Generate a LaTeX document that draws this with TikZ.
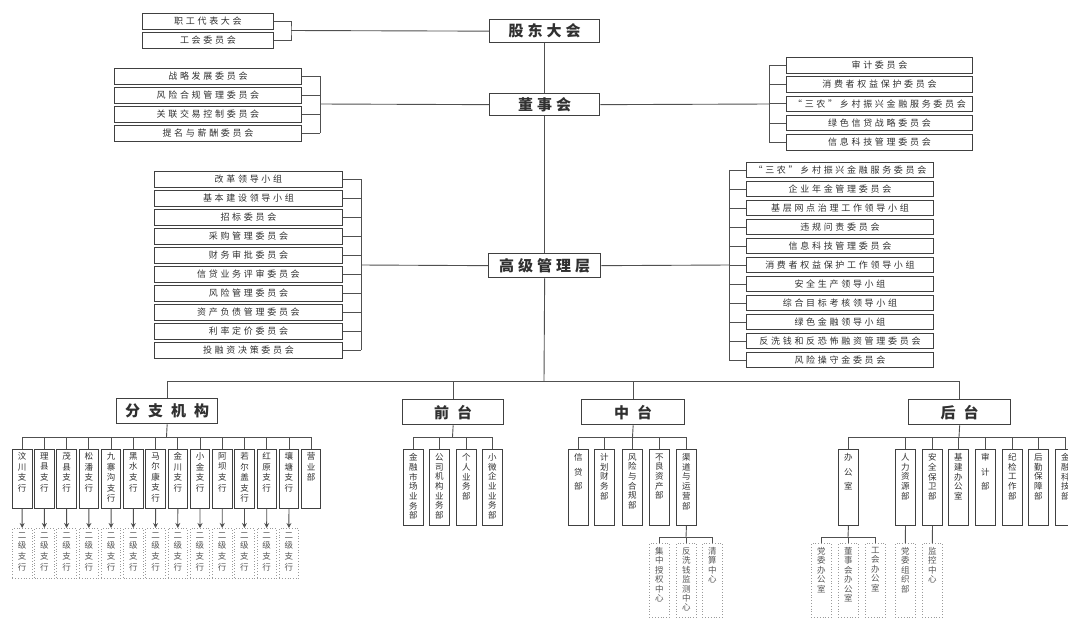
\documentclass[tikz,border=0pt]{standalone}
\usepackage{fontspec}
\newfontfamily\cjk{Noto Sans CJK SC}
\newfontfamily\cjkc[LetterSpace=30]{Noto Sans CJK SC}
\usetikzlibrary{arrows.meta}
\definecolor{lc}{HTML}{505050}
\definecolor{bc}{HTML}{404040}
\definecolor{tc}{HTML}{303030}
\definecolor{dc}{HTML}{9A9A9A}
\definecolor{dt}{HTML}{555555}
\def\vtA#1{\ifx#1\relax\else\hbox to 12pt{\hss#1\hss}\expandafter\vtA\fi}
\newcommand\vt[2]{\vbox to #1{\expandafter\vtA#2\relax\vfill}}
\newcommand\gap{\hspace{4pt}}
\newcommand\wgap{\hspace{8pt}}
\begin{document}
\begin{tikzpicture}[x=1pt,y=-1pt,
 ln/.style={draw=lc,line width=0.9pt},
 bx/.style={draw=bc,line width=0.9pt,inner sep=0pt,anchor=north west,text=tc},
 cbox/.style={bx,minimum height=15.5pt,font=\cjkc\fontsize{9}{10}\selectfont},
 hdr/.style={bx,line width=1.3pt,font=\cjk\bfseries\fontsize{15}{16}\selectfont},
 vbx/.style={bx,minimum width=20pt,inner ysep=4pt,font=\cjk\fontsize{8.5}{#1}\selectfont},
 vbx/.default=9.7,
 vbr/.style={bx,minimum width=19.5pt,inner ysep=3pt,font=\cjk\fontsize{8.5}{10.6}\selectfont},
 dbx/.style={draw=dc,dotted,line width=0.8pt,inner xsep=0pt,inner ysep=4pt,anchor=north west,minimum width=20pt,text=dt,font=\cjk\fontsize{8.5}{#1}\selectfont},
 dbx/.default=9.4,
 arr/.style={draw=lc,line width=0.9pt,-{Stealth[length=5pt,width=5pt]}}
]
\useasboundingbox (0,0) rectangle (1068,619);
% ---------- top
\node[hdr,minimum width=110pt,minimum height=23pt] (gd) at (489,19) {股\gap 东\gap 大\gap 会};
\node[cbox,minimum width=131pt] (zg1) at (142,13) {职工代表大会};
\node[cbox,minimum width=131pt] (zg2) at (142,32) {工会委员会};
\coordinate (bk0) at (291,30.5);
\draw[ln] (zg1.east) -| (bk0) |- (zg2.east);
\draw[ln] (bk0) -- (gd.west);
% ---------- board
\node[hdr,minimum width=110pt,minimum height=22pt] (ds) at (489,93) {董\gap 事\gap 会};
\foreach \t [count=\i] in {战略发展委员会,风险合规管理委员会,关联交易控制委员会,提名与薪酬委员会}
  \node[cbox,minimum width=187pt] (dl\i) at (114,{68+19*(\i-1)}) {\t};
\coordinate (bkd) at (320,104);
\foreach \i in {1,...,4} \draw[ln] (dl\i.east) -- (dl\i.east -| bkd);
\draw[ln] (dl1.east -| bkd) -- (dl4.east -| bkd);
\draw[ln] (bkd) -- (ds.west);
\foreach \t [count=\i] in {审计委员会,消费者权益保护委员会,“三农”乡村振兴金融服务委员会,绿色信贷战略委员会,信息科技管理委员会}
  \node[cbox,minimum width=186pt] (dr\i) at (786,{57+19.25*(\i-1)}) {\t};
\coordinate (bkr) at (769,104);
\foreach \i in {1,...,5} \draw[ln] (dr\i.west) -- (dr\i.west -| bkr);
\draw[ln] (dr1.west -| bkr) -- (dr5.west -| bkr);
\draw[ln] (bkr) -- (ds.east);
% ---------- senior management
\node[hdr,minimum width=112pt,minimum height=24pt] (gg) at (488,253) {高\gap 级\gap 管\gap 理\gap 层};
\foreach \t [count=\i] in {改革领导小组,基本建设领导小组,招标委员会,采购管理委员会,财务审批委员会,信贷业务评审委员会,风险管理委员会,资产负债管理委员会,利率定价委员会,投融资决策委员会}
  \node[cbox,minimum width=188pt] (gl\i) at (154,{171+19*(\i-1)}) {\t};
\coordinate (bkgl) at (361,265);
\foreach \i in {1,...,10} \draw[ln] (gl\i.east) -- (gl\i.east -| bkgl);
\draw[ln] (gl1.east -| bkgl) -- (gl10.east -| bkgl);
\draw[ln] (bkgl) -- (gg.west);
\foreach \t [count=\i] in {“三农”乡村振兴金融服务委员会,企业年金管理委员会,基层网点治理工作领导小组,违规问责委员会,信息科技管理委员会,消费者权益保护工作领导小组,安全生产领导小组,综合目标考核领导小组,绿色金融领导小组,反洗钱和反恐怖融资管理委员会,风险操守金委员会}
  \node[cbox,minimum width=187pt,minimum height=15pt] (gr\i) at (746,{162+19*(\i-1)}) {\t};
\coordinate (bkgr) at (729,265);
\foreach \i in {1,...,11} \draw[ln] (gr\i.west) -- (gr\i.west -| bkgr);
\draw[ln] (gr1.west -| bkgr) -- (gr11.west -| bkgr);
\draw[ln] (bkgr) -- (gg.east);
\draw[ln] (gd.south) -- (ds.north);
\draw[ln] (ds.south) -- (gg.north);
% ---------- second level
\node[hdr,minimum width=101pt,minimum height=25pt] (fz) at (116,398) {分\wgap 支\wgap 机\wgap 构};
\node[hdr,minimum width=101pt,minimum height=25pt] (qt) at (402,399) {前\wgap 台};
\node[hdr,minimum width=103pt,minimum height=25pt] (zt) at (581,399) {中\wgap 台};
\node[hdr,minimum width=102pt,minimum height=25pt] (ht) at (908,399) {后\wgap 台};
\coordinate (mb) at (544,381);
\draw[ln] (gg.south) -- (mb);
\draw[ln] (fz.north) |- (mb);
\draw[ln] (qt.north) |- (mb);
\draw[ln] (zt.north) |- (mb);
\draw[ln] (ht.north) |- (mb);
% ---------- branches
\foreach \t [count=\i] in {汶川支行,理县支行,茂县支行,松潘支行,九寨沟支行,黑水支行,马尔康支行,金川支行,小金支行,阿坝支行,若尔盖支行,红原支行,壤塘支行,营业部}
  \node[vbr] (b\i) at ({12+22.23*(\i-1)},449) {\vt{53pt}{\t}};
\coordinate (fb) at (166.5,437);
\draw[ln] (fz.south) -- (fb);
\foreach \i in {1,...,14} \draw[ln] (b\i.north) |- (fb);
\foreach \i in {1,...,13} {
  \node[dbx=10.6,minimum width=19.5pt] (e\i) at ({12+22.23*(\i-1)},528) {\vt{42pt}{二级支行}};
  \draw[arr] (b\i.south) -- (e\i.north);
}
% ---------- front office
\foreach \t/\x [count=\i] in {金融市场业务部/403,公司机构业务部/429,个人业务部/456,小微企业业务部/482}
  \node[vbx] (q\i) at (\x,449) {\vt{68pt}{\t}};
\coordinate (qb) at (452.5,437);
\draw[ln] (qt.south) -- (qb);
\foreach \i in {1,...,4} \draw[ln] (q\i.north) |- (qb);
% ---------- middle office
\foreach \t/\x/\s [count=\i] in {信贷部/568/14.5,计划财务部/594/9.7,风险与合规部/622/9.7,不良资产部/649/9.7,渠道与运营部/676/9.7}
  \node[vbx=\s] (z\i) at (\x,449) {\vt{68pt}{\t}};
\coordinate (zb) at (632.5,437);
\draw[ln] (zt.south) -- (zb);
\foreach \i in {1,...,5} \draw[ln] (z\i.north) |- (zb);
\foreach \t/\x [count=\i] in {集中授权中心/649,反洗钱监测中心/676,清算中心/702}
  \node[dbx] (zc\i) at (\x,543) {\vt{66pt}{\t}};
\coordinate (zcb) at (686,537);
\draw[ln] (z5.south) -- (zcb);
\foreach \i in {1,...,3} \draw[ln] (zc\i.north) |- (zcb);
% ---------- back office
\foreach \t/\x/\s [count=\i] in {办公室/838/14.5,人力资源部/895/9.7,安全保卫部/922/9.7,基建办公室/948/9.7,审计部/975/14.5,纪检工作部/1002/9.7,后勤保障部/1028/9.7,金融科技部/1055/9.7}
  \node[vbx=\s] (h\i) at (\x,449) {\vt{68pt}{\t}};
\coordinate (hb) at (959,437);
\draw[ln] (ht.south) -- (hb);
\foreach \i in {1,...,8} \draw[ln] (h\i.north) |- (hb);
\foreach \t/\x [count=\i] in {党委办公室/811,董事会办公室/838,工会办公室/865}
  \node[dbx] (o\i) at (\x,543) {\vt{66pt}{\t}};
\coordinate (ob) at (848,537);
\draw[ln] (h1.south) -- (ob);
\foreach \i in {1,...,3} \draw[ln] (o\i.north) |- (ob);
\node[dbx] (r1) at (895,543) {\vt{66pt}{党委组织部}};
\node[dbx] (r2) at (922,543) {\vt{66pt}{监控中心}};
\draw[ln] (h2.south) -- (r1.north);
\draw[ln] (h3.south) -- (r2.north);
\end{tikzpicture}
\end{document}
